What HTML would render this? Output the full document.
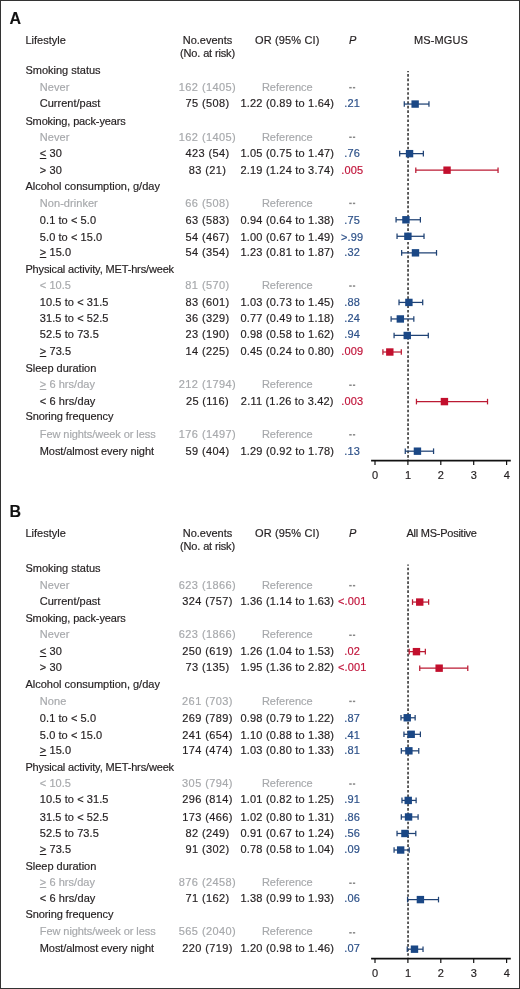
<!DOCTYPE html>
<html><head><meta charset="utf-8"><style>
html,body{margin:0;padding:0;background:#fff;}
body{width:520px;height:989px;position:relative;overflow:hidden;font-family:"Liberation Sans",sans-serif;}
.frame{position:absolute;left:0;top:0;width:520px;height:989px;box-sizing:border-box;border:1px solid #333;}
.t{position:absolute;font-size:11px;line-height:11px;white-space:pre;color:#231f20;-webkit-text-stroke:0.18px currentColor;}
.c{width:200px;text-align:center;}
.L{font-size:16px;line-height:16px;font-weight:bold;color:#111;-webkit-text-stroke:0.1px #111;}
.lbl{letter-spacing:0px;}
.num{letter-spacing:0.15px;}
.dash{letter-spacing:-0.5px;color:#444;}
svg{position:absolute;left:0;top:0;}
.txt{position:absolute;left:0;top:0;width:520px;height:989px;will-change:transform;}
u{text-decoration:underline;text-decoration-thickness:0.9px;text-underline-offset:1.2px;}
</style></head><body>
<div class="frame"></div>
<div class="txt">
<div class="t L" style="left:9.6px;top:10.96px">A</div>
<div class="t lbl" style="left:25.40px;top:35.09px;color:#231f20;">Lifestyle</div>
<div class="t c lbl" style="left:107.50px;top:35.09px;color:#231f20;">No.events</div>
<div class="t c lbl" style="left:107.50px;top:48.39px;color:#231f20;letter-spacing:-0.15px">(No. at risk)</div>
<div class="t c num" style="left:187.30px;top:35.09px;color:#231f20;">OR (95% CI)</div>
<div class="t c " style="left:252.75px;top:35.09px;color:#231f20;font-style:italic">P</div>
<div class="t c lbl" style="left:341.00px;top:35.09px;color:#231f20;letter-spacing:0.15px">MS-MGUS</div>
<div class="t lbl" style="left:25.40px;top:65.00px;color:#231f20;letter-spacing:0px">Smoking status</div>
<div class="t lbl" style="left:39.80px;top:82.00px;color:#a7a9ac;letter-spacing:0.05px">Never</div>
<div class="t c num" style="left:107.50px;top:82.00px;color:#a7a9ac;letter-spacing:0.42px">162 (1405)</div>
<div class="t c lbl" style="left:187.30px;top:82.00px;color:#a7a9ac;">Reference</div>
<div class="t lbl" style="left:39.80px;top:98.00px;color:#231f20;letter-spacing:0px">Current/past</div>
<div class="t c num" style="left:107.50px;top:98.00px;color:#231f20;letter-spacing:0.38px">75 (508)</div>
<div class="t c num" style="left:187.30px;top:98.00px;color:#231f20;letter-spacing:0.2px">1.22 (0.89 to 1.64)</div>
<div class="t c num" style="left:252.20px;top:98.00px;color:#2c5088;">.21</div>
<div class="t lbl" style="left:25.40px;top:116.00px;color:#231f20;letter-spacing:-0.13px">Smoking, pack-years</div>
<div class="t lbl" style="left:39.80px;top:132.00px;color:#a7a9ac;letter-spacing:0.05px">Never</div>
<div class="t c num" style="left:107.50px;top:132.00px;color:#a7a9ac;letter-spacing:0.42px">162 (1405)</div>
<div class="t c lbl" style="left:187.30px;top:132.00px;color:#a7a9ac;">Reference</div>
<div class="t lbl" style="left:39.80px;top:148.00px;color:#231f20;letter-spacing:0.08px"><u>&lt;</u> 30</div>
<div class="t c num" style="left:107.50px;top:148.00px;color:#231f20;letter-spacing:0.38px">423 (54)</div>
<div class="t c num" style="left:187.30px;top:148.00px;color:#231f20;letter-spacing:0.2px">1.05 (0.75 to 1.47)</div>
<div class="t c num" style="left:252.20px;top:148.00px;color:#2c5088;">.76</div>
<div class="t lbl" style="left:39.80px;top:165.00px;color:#231f20;letter-spacing:0.08px">&gt; 30</div>
<div class="t c num" style="left:107.50px;top:165.00px;color:#231f20;letter-spacing:0.38px">83 (21)</div>
<div class="t c num" style="left:187.30px;top:165.00px;color:#231f20;letter-spacing:0.2px">2.19 (1.24 to 3.74)</div>
<div class="t c num" style="left:252.20px;top:165.00px;color:#c0143a;">.005</div>
<div class="t lbl" style="left:25.40px;top:181.00px;color:#231f20;letter-spacing:0px">Alcohol consumption, g/day</div>
<div class="t lbl" style="left:39.80px;top:198.00px;color:#a7a9ac;letter-spacing:0.05px">Non-drinker</div>
<div class="t c num" style="left:107.50px;top:198.00px;color:#a7a9ac;letter-spacing:0.42px">66 (508)</div>
<div class="t c lbl" style="left:187.30px;top:198.00px;color:#a7a9ac;">Reference</div>
<div class="t lbl" style="left:39.80px;top:215.00px;color:#231f20;letter-spacing:0.08px">0.1 to &lt; 5.0</div>
<div class="t c num" style="left:107.50px;top:215.00px;color:#231f20;letter-spacing:0.38px">63 (583)</div>
<div class="t c num" style="left:187.30px;top:215.00px;color:#231f20;letter-spacing:0.2px">0.94 (0.64 to 1.38)</div>
<div class="t c num" style="left:252.20px;top:215.00px;color:#2c5088;">.75</div>
<div class="t lbl" style="left:39.80px;top:232.00px;color:#231f20;letter-spacing:0.08px">5.0 to &lt; 15.0</div>
<div class="t c num" style="left:107.50px;top:232.00px;color:#231f20;letter-spacing:0.38px">54 (467)</div>
<div class="t c num" style="left:187.30px;top:232.00px;color:#231f20;letter-spacing:0.2px">1.00 (0.67 to 1.49)</div>
<div class="t c num" style="left:252.20px;top:232.00px;color:#2c5088;">&gt;.99</div>
<div class="t lbl" style="left:39.80px;top:247.00px;color:#231f20;letter-spacing:0.08px"><u>&gt;</u> 15.0</div>
<div class="t c num" style="left:107.50px;top:247.00px;color:#231f20;letter-spacing:0.38px">54 (354)</div>
<div class="t c num" style="left:187.30px;top:247.00px;color:#231f20;letter-spacing:0.2px">1.23 (0.81 to 1.87)</div>
<div class="t c num" style="left:252.20px;top:247.00px;color:#2c5088;">.32</div>
<div class="t lbl" style="left:25.40px;top:264.00px;color:#231f20;letter-spacing:-0.15px">Physical activity, MET-hrs/week</div>
<div class="t lbl" style="left:39.80px;top:280.00px;color:#a7a9ac;letter-spacing:0.05px">&lt; 10.5</div>
<div class="t c num" style="left:107.50px;top:280.00px;color:#a7a9ac;letter-spacing:0.42px">81 (570)</div>
<div class="t c lbl" style="left:187.30px;top:280.00px;color:#a7a9ac;">Reference</div>
<div class="t lbl" style="left:39.80px;top:297.00px;color:#231f20;letter-spacing:0.08px">10.5 to &lt; 31.5</div>
<div class="t c num" style="left:107.50px;top:297.00px;color:#231f20;letter-spacing:0.38px">83 (601)</div>
<div class="t c num" style="left:187.30px;top:297.00px;color:#231f20;letter-spacing:0.2px">1.03 (0.73 to 1.45)</div>
<div class="t c num" style="left:252.20px;top:297.00px;color:#2c5088;">.88</div>
<div class="t lbl" style="left:39.80px;top:313.00px;color:#231f20;letter-spacing:0.08px">31.5 to &lt; 52.5</div>
<div class="t c num" style="left:107.50px;top:313.00px;color:#231f20;letter-spacing:0.38px">36 (329)</div>
<div class="t c num" style="left:187.30px;top:313.00px;color:#231f20;letter-spacing:0.2px">0.77 (0.49 to 1.18)</div>
<div class="t c num" style="left:252.20px;top:313.00px;color:#2c5088;">.24</div>
<div class="t lbl" style="left:39.80px;top:329.00px;color:#231f20;letter-spacing:0.08px">52.5 to 73.5</div>
<div class="t c num" style="left:107.50px;top:329.00px;color:#231f20;letter-spacing:0.38px">23 (190)</div>
<div class="t c num" style="left:187.30px;top:329.00px;color:#231f20;letter-spacing:0.2px">0.98 (0.58 to 1.62)</div>
<div class="t c num" style="left:252.20px;top:329.00px;color:#2c5088;">.94</div>
<div class="t lbl" style="left:39.80px;top:346.00px;color:#231f20;letter-spacing:0.08px"><u>&gt;</u> 73.5</div>
<div class="t c num" style="left:107.50px;top:346.00px;color:#231f20;letter-spacing:0.38px">14 (225)</div>
<div class="t c num" style="left:187.30px;top:346.00px;color:#231f20;letter-spacing:0.2px">0.45 (0.24 to 0.80)</div>
<div class="t c num" style="left:252.20px;top:346.00px;color:#c0143a;">.009</div>
<div class="t lbl" style="left:25.40px;top:363.00px;color:#231f20;letter-spacing:0px">Sleep duration</div>
<div class="t lbl" style="left:39.80px;top:379.00px;color:#a7a9ac;letter-spacing:0.05px"><u>&gt;</u> 6 hrs/day</div>
<div class="t c num" style="left:107.50px;top:379.00px;color:#a7a9ac;letter-spacing:0.42px">212 (1794)</div>
<div class="t c lbl" style="left:187.30px;top:379.00px;color:#a7a9ac;">Reference</div>
<div class="t lbl" style="left:39.80px;top:396.00px;color:#231f20;letter-spacing:0.08px">&lt; 6 hrs/day</div>
<div class="t c num" style="left:107.50px;top:396.00px;color:#231f20;letter-spacing:0.38px">25 (116)</div>
<div class="t c num" style="left:187.30px;top:396.00px;color:#231f20;letter-spacing:0.2px">2.11 (1.26 to 3.42)</div>
<div class="t c num" style="left:252.20px;top:396.00px;color:#c0143a;">.003</div>
<div class="t lbl" style="left:25.40px;top:411.00px;color:#231f20;letter-spacing:-0.07px">Snoring frequency</div>
<div class="t lbl" style="left:39.80px;top:429.00px;color:#a7a9ac;letter-spacing:-0.07px">Few nights/week or less</div>
<div class="t c num" style="left:107.50px;top:429.00px;color:#a7a9ac;letter-spacing:0.42px">176 (1497)</div>
<div class="t c lbl" style="left:187.30px;top:429.00px;color:#a7a9ac;">Reference</div>
<div class="t lbl" style="left:39.80px;top:446.00px;color:#231f20;letter-spacing:-0.09px">Most/almost every night</div>
<div class="t c num" style="left:107.50px;top:446.00px;color:#231f20;letter-spacing:0.38px">59 (404)</div>
<div class="t c num" style="left:187.30px;top:446.00px;color:#231f20;letter-spacing:0.2px">1.29 (0.92 to 1.78)</div>
<div class="t c num" style="left:252.20px;top:446.00px;color:#2c5088;">.13</div>
<div class="t c num" style="left:275.20px;top:470.19px;color:#231f20;">0</div>
<div class="t c num" style="left:308.10px;top:470.19px;color:#231f20;">1</div>
<div class="t c num" style="left:341.00px;top:470.19px;color:#231f20;">2</div>
<div class="t c num" style="left:373.90px;top:470.19px;color:#231f20;">3</div>
<div class="t c num" style="left:406.80px;top:470.19px;color:#231f20;">4</div>
<div class="t L" style="left:9.6px;top:503.76px">B</div>
<div class="t lbl" style="left:25.40px;top:527.89px;color:#231f20;">Lifestyle</div>
<div class="t c lbl" style="left:107.50px;top:527.89px;color:#231f20;">No.events</div>
<div class="t c lbl" style="left:107.50px;top:541.19px;color:#231f20;letter-spacing:-0.15px">(No. at risk)</div>
<div class="t c num" style="left:187.30px;top:527.89px;color:#231f20;">OR (95% CI)</div>
<div class="t c " style="left:252.75px;top:527.89px;color:#231f20;font-style:italic">P</div>
<div class="t c lbl" style="left:341.60px;top:527.89px;color:#231f20;letter-spacing:-0.25px">All MS-Positive</div>
<div class="t lbl" style="left:25.40px;top:563.00px;color:#231f20;letter-spacing:0px">Smoking status</div>
<div class="t lbl" style="left:39.80px;top:580.00px;color:#a7a9ac;letter-spacing:0.05px">Never</div>
<div class="t c num" style="left:107.50px;top:580.00px;color:#a7a9ac;letter-spacing:0.42px">623 (1866)</div>
<div class="t c lbl" style="left:187.30px;top:580.00px;color:#a7a9ac;">Reference</div>
<div class="t lbl" style="left:39.80px;top:596.00px;color:#231f20;letter-spacing:0px">Current/past</div>
<div class="t c num" style="left:107.50px;top:596.00px;color:#231f20;letter-spacing:0.38px">324 (757)</div>
<div class="t c num" style="left:187.30px;top:596.00px;color:#231f20;letter-spacing:0.2px">1.36 (1.14 to 1.63)</div>
<div class="t c num" style="left:252.20px;top:596.00px;color:#c0143a;">&lt;.001</div>
<div class="t lbl" style="left:25.40px;top:613.00px;color:#231f20;letter-spacing:-0.13px">Smoking, pack-years</div>
<div class="t lbl" style="left:39.80px;top:629.00px;color:#a7a9ac;letter-spacing:0.05px">Never</div>
<div class="t c num" style="left:107.50px;top:629.00px;color:#a7a9ac;letter-spacing:0.42px">623 (1866)</div>
<div class="t c lbl" style="left:187.30px;top:629.00px;color:#a7a9ac;">Reference</div>
<div class="t lbl" style="left:39.80px;top:646.00px;color:#231f20;letter-spacing:0.08px"><u>&lt;</u> 30</div>
<div class="t c num" style="left:107.50px;top:646.00px;color:#231f20;letter-spacing:0.38px">250 (619)</div>
<div class="t c num" style="left:187.30px;top:646.00px;color:#231f20;letter-spacing:0.2px">1.26 (1.04 to 1.53)</div>
<div class="t c num" style="left:252.20px;top:646.00px;color:#c0143a;">.02</div>
<div class="t lbl" style="left:39.80px;top:662.00px;color:#231f20;letter-spacing:0.08px">&gt; 30</div>
<div class="t c num" style="left:107.50px;top:662.00px;color:#231f20;letter-spacing:0.38px">73 (135)</div>
<div class="t c num" style="left:187.30px;top:662.00px;color:#231f20;letter-spacing:0.2px">1.95 (1.36 to 2.82)</div>
<div class="t c num" style="left:252.20px;top:662.00px;color:#c0143a;">&lt;.001</div>
<div class="t lbl" style="left:25.40px;top:679.00px;color:#231f20;letter-spacing:0px">Alcohol consumption, g/day</div>
<div class="t lbl" style="left:39.80px;top:696.00px;color:#a7a9ac;letter-spacing:0.05px">None</div>
<div class="t c num" style="left:107.50px;top:696.00px;color:#a7a9ac;letter-spacing:0.42px">261 (703)</div>
<div class="t c lbl" style="left:187.30px;top:696.00px;color:#a7a9ac;">Reference</div>
<div class="t lbl" style="left:39.80px;top:713.00px;color:#231f20;letter-spacing:0.08px">0.1 to &lt; 5.0</div>
<div class="t c num" style="left:107.50px;top:713.00px;color:#231f20;letter-spacing:0.38px">269 (789)</div>
<div class="t c num" style="left:187.30px;top:713.00px;color:#231f20;letter-spacing:0.2px">0.98 (0.79 to 1.22)</div>
<div class="t c num" style="left:252.20px;top:713.00px;color:#2c5088;">.87</div>
<div class="t lbl" style="left:39.80px;top:730.00px;color:#231f20;letter-spacing:0.08px">5.0 to &lt; 15.0</div>
<div class="t c num" style="left:107.50px;top:730.00px;color:#231f20;letter-spacing:0.38px">241 (654)</div>
<div class="t c num" style="left:187.30px;top:730.00px;color:#231f20;letter-spacing:0.2px">1.10 (0.88 to 1.38)</div>
<div class="t c num" style="left:252.20px;top:730.00px;color:#2c5088;">.41</div>
<div class="t lbl" style="left:39.80px;top:745.00px;color:#231f20;letter-spacing:0.08px"><u>&gt;</u> 15.0</div>
<div class="t c num" style="left:107.50px;top:745.00px;color:#231f20;letter-spacing:0.38px">174 (474)</div>
<div class="t c num" style="left:187.30px;top:745.00px;color:#231f20;letter-spacing:0.2px">1.03 (0.80 to 1.33)</div>
<div class="t c num" style="left:252.20px;top:745.00px;color:#2c5088;">.81</div>
<div class="t lbl" style="left:25.40px;top:762.00px;color:#231f20;letter-spacing:-0.15px">Physical activity, MET-hrs/week</div>
<div class="t lbl" style="left:39.80px;top:778.00px;color:#a7a9ac;letter-spacing:0.05px">&lt; 10.5</div>
<div class="t c num" style="left:107.50px;top:778.00px;color:#a7a9ac;letter-spacing:0.42px">305 (794)</div>
<div class="t c lbl" style="left:187.30px;top:778.00px;color:#a7a9ac;">Reference</div>
<div class="t lbl" style="left:39.80px;top:794.00px;color:#231f20;letter-spacing:0.08px">10.5 to &lt; 31.5</div>
<div class="t c num" style="left:107.50px;top:794.00px;color:#231f20;letter-spacing:0.38px">296 (814)</div>
<div class="t c num" style="left:187.30px;top:794.00px;color:#231f20;letter-spacing:0.2px">1.01 (0.82 to 1.25)</div>
<div class="t c num" style="left:252.20px;top:794.00px;color:#2c5088;">.91</div>
<div class="t lbl" style="left:39.80px;top:812.00px;color:#231f20;letter-spacing:0.08px">31.5 to &lt; 52.5</div>
<div class="t c num" style="left:107.50px;top:812.00px;color:#231f20;letter-spacing:0.38px">173 (466)</div>
<div class="t c num" style="left:187.30px;top:812.00px;color:#231f20;letter-spacing:0.2px">1.02 (0.80 to 1.31)</div>
<div class="t c num" style="left:252.20px;top:812.00px;color:#2c5088;">.86</div>
<div class="t lbl" style="left:39.80px;top:828.00px;color:#231f20;letter-spacing:0.08px">52.5 to 73.5</div>
<div class="t c num" style="left:107.50px;top:828.00px;color:#231f20;letter-spacing:0.38px">82 (249)</div>
<div class="t c num" style="left:187.30px;top:828.00px;color:#231f20;letter-spacing:0.2px">0.91 (0.67 to 1.24)</div>
<div class="t c num" style="left:252.20px;top:828.00px;color:#2c5088;">.56</div>
<div class="t lbl" style="left:39.80px;top:844.00px;color:#231f20;letter-spacing:0.08px"><u>&gt;</u> 73.5</div>
<div class="t c num" style="left:107.50px;top:844.00px;color:#231f20;letter-spacing:0.38px">91 (302)</div>
<div class="t c num" style="left:187.30px;top:844.00px;color:#231f20;letter-spacing:0.2px">0.78 (0.58 to 1.04)</div>
<div class="t c num" style="left:252.20px;top:844.00px;color:#2c5088;">.09</div>
<div class="t lbl" style="left:25.40px;top:861.00px;color:#231f20;letter-spacing:0px">Sleep duration</div>
<div class="t lbl" style="left:39.80px;top:877.00px;color:#a7a9ac;letter-spacing:0.05px"><u>&gt;</u> 6 hrs/day</div>
<div class="t c num" style="left:107.50px;top:877.00px;color:#a7a9ac;letter-spacing:0.42px">876 (2458)</div>
<div class="t c lbl" style="left:187.30px;top:877.00px;color:#a7a9ac;">Reference</div>
<div class="t lbl" style="left:39.80px;top:893.00px;color:#231f20;letter-spacing:0.08px">&lt; 6 hrs/day</div>
<div class="t c num" style="left:107.50px;top:893.00px;color:#231f20;letter-spacing:0.38px">71 (162)</div>
<div class="t c num" style="left:187.30px;top:893.00px;color:#231f20;letter-spacing:0.2px">1.38 (0.99 to 1.93)</div>
<div class="t c num" style="left:252.20px;top:893.00px;color:#2c5088;">.06</div>
<div class="t lbl" style="left:25.40px;top:909.00px;color:#231f20;letter-spacing:-0.07px">Snoring frequency</div>
<div class="t lbl" style="left:39.80px;top:926.00px;color:#a7a9ac;letter-spacing:-0.07px">Few nights/week or less</div>
<div class="t c num" style="left:107.50px;top:926.00px;color:#a7a9ac;letter-spacing:0.42px">565 (2040)</div>
<div class="t c lbl" style="left:187.30px;top:926.00px;color:#a7a9ac;">Reference</div>
<div class="t lbl" style="left:39.80px;top:943.00px;color:#231f20;letter-spacing:-0.09px">Most/almost every night</div>
<div class="t c num" style="left:107.50px;top:943.00px;color:#231f20;letter-spacing:0.38px">220 (719)</div>
<div class="t c num" style="left:187.30px;top:943.00px;color:#231f20;letter-spacing:0.2px">1.20 (0.98 to 1.46)</div>
<div class="t c num" style="left:252.20px;top:943.00px;color:#2c5088;">.07</div>
<div class="t c num" style="left:275.20px;top:968.19px;color:#231f20;">0</div>
<div class="t c num" style="left:308.10px;top:968.19px;color:#231f20;">1</div>
<div class="t c num" style="left:341.00px;top:968.19px;color:#231f20;">2</div>
<div class="t c num" style="left:373.90px;top:968.19px;color:#231f20;">3</div>
<div class="t c num" style="left:406.80px;top:968.19px;color:#231f20;">4</div>
</div>
<svg width="520" height="989" viewBox="0 0 520 989">
<line x1="408.05" y1="71.00" x2="408.05" y2="460.60" stroke="#2a2a2a" stroke-width="1.5" stroke-dasharray="2.65 1.885" stroke-dashoffset="1.455"/>
<line x1="408.05" y1="564.60" x2="408.05" y2="958.60" stroke="#2a2a2a" stroke-width="1.5" stroke-dasharray="2.65 1.885" stroke-dashoffset="1.455"/>
<line x1="404.28" y1="104.06" x2="428.96" y2="104.06" stroke="#1f4274" stroke-width="1.25"/>
<line x1="404.28" y1="101.26" x2="404.28" y2="106.86" stroke="#1f4274" stroke-width="1.25"/>
<line x1="428.96" y1="101.26" x2="428.96" y2="106.86" stroke="#1f4274" stroke-width="1.25"/>
<line x1="399.68" y1="153.65" x2="423.36" y2="153.65" stroke="#1f4274" stroke-width="1.25"/>
<line x1="399.68" y1="150.85" x2="399.68" y2="156.45" stroke="#1f4274" stroke-width="1.25"/>
<line x1="423.36" y1="150.85" x2="423.36" y2="156.45" stroke="#1f4274" stroke-width="1.25"/>
<line x1="415.80" y1="170.18" x2="498.05" y2="170.18" stroke="#bb1a33" stroke-width="1.25"/>
<line x1="415.80" y1="167.38" x2="415.80" y2="172.98" stroke="#bb1a33" stroke-width="1.25"/>
<line x1="498.05" y1="167.38" x2="498.05" y2="172.98" stroke="#bb1a33" stroke-width="1.25"/>
<line x1="396.06" y1="219.77" x2="420.40" y2="219.77" stroke="#1f4274" stroke-width="1.25"/>
<line x1="396.06" y1="216.97" x2="396.06" y2="222.57" stroke="#1f4274" stroke-width="1.25"/>
<line x1="420.40" y1="216.97" x2="420.40" y2="222.57" stroke="#1f4274" stroke-width="1.25"/>
<line x1="397.04" y1="236.30" x2="424.02" y2="236.30" stroke="#1f4274" stroke-width="1.25"/>
<line x1="397.04" y1="233.50" x2="397.04" y2="239.10" stroke="#1f4274" stroke-width="1.25"/>
<line x1="424.02" y1="233.50" x2="424.02" y2="239.10" stroke="#1f4274" stroke-width="1.25"/>
<line x1="401.65" y1="252.83" x2="436.52" y2="252.83" stroke="#1f4274" stroke-width="1.25"/>
<line x1="401.65" y1="250.03" x2="401.65" y2="255.63" stroke="#1f4274" stroke-width="1.25"/>
<line x1="436.52" y1="250.03" x2="436.52" y2="255.63" stroke="#1f4274" stroke-width="1.25"/>
<line x1="399.02" y1="302.42" x2="422.70" y2="302.42" stroke="#1f4274" stroke-width="1.25"/>
<line x1="399.02" y1="299.62" x2="399.02" y2="305.22" stroke="#1f4274" stroke-width="1.25"/>
<line x1="422.70" y1="299.62" x2="422.70" y2="305.22" stroke="#1f4274" stroke-width="1.25"/>
<line x1="391.12" y1="318.95" x2="413.82" y2="318.95" stroke="#1f4274" stroke-width="1.25"/>
<line x1="391.12" y1="316.15" x2="391.12" y2="321.75" stroke="#1f4274" stroke-width="1.25"/>
<line x1="413.82" y1="316.15" x2="413.82" y2="321.75" stroke="#1f4274" stroke-width="1.25"/>
<line x1="394.08" y1="335.48" x2="428.30" y2="335.48" stroke="#1f4274" stroke-width="1.25"/>
<line x1="394.08" y1="332.68" x2="394.08" y2="338.28" stroke="#1f4274" stroke-width="1.25"/>
<line x1="428.30" y1="332.68" x2="428.30" y2="338.28" stroke="#1f4274" stroke-width="1.25"/>
<line x1="382.90" y1="352.01" x2="401.32" y2="352.01" stroke="#bb1a33" stroke-width="1.25"/>
<line x1="382.90" y1="349.21" x2="382.90" y2="354.81" stroke="#bb1a33" stroke-width="1.25"/>
<line x1="401.32" y1="349.21" x2="401.32" y2="354.81" stroke="#bb1a33" stroke-width="1.25"/>
<line x1="416.45" y1="401.60" x2="487.52" y2="401.60" stroke="#bb1a33" stroke-width="1.25"/>
<line x1="416.45" y1="398.80" x2="416.45" y2="404.40" stroke="#bb1a33" stroke-width="1.25"/>
<line x1="487.52" y1="398.80" x2="487.52" y2="404.40" stroke="#bb1a33" stroke-width="1.25"/>
<line x1="405.27" y1="451.19" x2="433.56" y2="451.19" stroke="#1f4274" stroke-width="1.25"/>
<line x1="405.27" y1="448.39" x2="405.27" y2="453.99" stroke="#1f4274" stroke-width="1.25"/>
<line x1="433.56" y1="448.39" x2="433.56" y2="453.99" stroke="#1f4274" stroke-width="1.25"/>
<line x1="412.51" y1="602.06" x2="428.63" y2="602.06" stroke="#bb1a33" stroke-width="1.25"/>
<line x1="412.51" y1="599.26" x2="412.51" y2="604.86" stroke="#bb1a33" stroke-width="1.25"/>
<line x1="428.63" y1="599.26" x2="428.63" y2="604.86" stroke="#bb1a33" stroke-width="1.25"/>
<line x1="409.22" y1="651.65" x2="425.34" y2="651.65" stroke="#bb1a33" stroke-width="1.25"/>
<line x1="409.22" y1="648.85" x2="409.22" y2="654.45" stroke="#bb1a33" stroke-width="1.25"/>
<line x1="425.34" y1="648.85" x2="425.34" y2="654.45" stroke="#bb1a33" stroke-width="1.25"/>
<line x1="419.74" y1="668.18" x2="467.78" y2="668.18" stroke="#bb1a33" stroke-width="1.25"/>
<line x1="419.74" y1="665.38" x2="419.74" y2="670.98" stroke="#bb1a33" stroke-width="1.25"/>
<line x1="467.78" y1="665.38" x2="467.78" y2="670.98" stroke="#bb1a33" stroke-width="1.25"/>
<line x1="400.99" y1="717.77" x2="415.14" y2="717.77" stroke="#1f4274" stroke-width="1.25"/>
<line x1="400.99" y1="714.97" x2="400.99" y2="720.57" stroke="#1f4274" stroke-width="1.25"/>
<line x1="415.14" y1="714.97" x2="415.14" y2="720.57" stroke="#1f4274" stroke-width="1.25"/>
<line x1="403.95" y1="734.30" x2="420.40" y2="734.30" stroke="#1f4274" stroke-width="1.25"/>
<line x1="403.95" y1="731.50" x2="403.95" y2="737.10" stroke="#1f4274" stroke-width="1.25"/>
<line x1="420.40" y1="731.50" x2="420.40" y2="737.10" stroke="#1f4274" stroke-width="1.25"/>
<line x1="401.32" y1="750.83" x2="418.76" y2="750.83" stroke="#1f4274" stroke-width="1.25"/>
<line x1="401.32" y1="748.03" x2="401.32" y2="753.63" stroke="#1f4274" stroke-width="1.25"/>
<line x1="418.76" y1="748.03" x2="418.76" y2="753.63" stroke="#1f4274" stroke-width="1.25"/>
<line x1="401.98" y1="800.42" x2="416.12" y2="800.42" stroke="#1f4274" stroke-width="1.25"/>
<line x1="401.98" y1="797.62" x2="401.98" y2="803.22" stroke="#1f4274" stroke-width="1.25"/>
<line x1="416.12" y1="797.62" x2="416.12" y2="803.22" stroke="#1f4274" stroke-width="1.25"/>
<line x1="401.32" y1="816.95" x2="418.10" y2="816.95" stroke="#1f4274" stroke-width="1.25"/>
<line x1="401.32" y1="814.15" x2="401.32" y2="819.75" stroke="#1f4274" stroke-width="1.25"/>
<line x1="418.10" y1="814.15" x2="418.10" y2="819.75" stroke="#1f4274" stroke-width="1.25"/>
<line x1="397.04" y1="833.48" x2="415.80" y2="833.48" stroke="#1f4274" stroke-width="1.25"/>
<line x1="397.04" y1="830.68" x2="397.04" y2="836.28" stroke="#1f4274" stroke-width="1.25"/>
<line x1="415.80" y1="830.68" x2="415.80" y2="836.28" stroke="#1f4274" stroke-width="1.25"/>
<line x1="394.08" y1="850.01" x2="409.22" y2="850.01" stroke="#1f4274" stroke-width="1.25"/>
<line x1="394.08" y1="847.21" x2="394.08" y2="852.81" stroke="#1f4274" stroke-width="1.25"/>
<line x1="409.22" y1="847.21" x2="409.22" y2="852.81" stroke="#1f4274" stroke-width="1.25"/>
<line x1="407.57" y1="899.60" x2="438.50" y2="899.60" stroke="#1f4274" stroke-width="1.25"/>
<line x1="407.57" y1="896.80" x2="407.57" y2="902.40" stroke="#1f4274" stroke-width="1.25"/>
<line x1="438.50" y1="896.80" x2="438.50" y2="902.40" stroke="#1f4274" stroke-width="1.25"/>
<line x1="407.24" y1="949.19" x2="423.03" y2="949.19" stroke="#1f4274" stroke-width="1.25"/>
<line x1="407.24" y1="946.39" x2="407.24" y2="951.99" stroke="#1f4274" stroke-width="1.25"/>
<line x1="423.03" y1="946.39" x2="423.03" y2="951.99" stroke="#1f4274" stroke-width="1.25"/>
<rect x="349.2" y="86.93" width="2.5" height="1.5" fill="#888888"/>
<rect x="352.9" y="86.93" width="2.3" height="1.5" fill="#888888"/>
<rect x="411.44" y="100.36" width="7.4" height="7.4" fill="#1a4785"/>
<rect x="349.2" y="136.52" width="2.5" height="1.5" fill="#888888"/>
<rect x="352.9" y="136.52" width="2.3" height="1.5" fill="#888888"/>
<rect x="405.85" y="149.95" width="7.4" height="7.4" fill="#1a4785"/>
<rect x="443.35" y="166.48" width="7.4" height="7.4" fill="#c20f2d"/>
<rect x="349.2" y="202.64" width="2.5" height="1.5" fill="#888888"/>
<rect x="352.9" y="202.64" width="2.3" height="1.5" fill="#888888"/>
<rect x="402.23" y="216.07" width="7.4" height="7.4" fill="#1a4785"/>
<rect x="404.20" y="232.60" width="7.4" height="7.4" fill="#1a4785"/>
<rect x="411.77" y="249.13" width="7.4" height="7.4" fill="#1a4785"/>
<rect x="349.2" y="285.29" width="2.5" height="1.5" fill="#888888"/>
<rect x="352.9" y="285.29" width="2.3" height="1.5" fill="#888888"/>
<rect x="405.19" y="298.72" width="7.4" height="7.4" fill="#1a4785"/>
<rect x="396.63" y="315.25" width="7.4" height="7.4" fill="#1a4785"/>
<rect x="403.54" y="331.78" width="7.4" height="7.4" fill="#1a4785"/>
<rect x="386.11" y="348.31" width="7.4" height="7.4" fill="#c20f2d"/>
<rect x="349.2" y="384.47" width="2.5" height="1.5" fill="#888888"/>
<rect x="352.9" y="384.47" width="2.3" height="1.5" fill="#888888"/>
<rect x="440.72" y="397.90" width="7.4" height="7.4" fill="#c20f2d"/>
<rect x="349.2" y="434.06" width="2.5" height="1.5" fill="#888888"/>
<rect x="352.9" y="434.06" width="2.3" height="1.5" fill="#888888"/>
<rect x="413.74" y="447.49" width="7.4" height="7.4" fill="#1a4785"/>
<rect x="349.2" y="584.93" width="2.5" height="1.5" fill="#888888"/>
<rect x="352.9" y="584.93" width="2.3" height="1.5" fill="#888888"/>
<rect x="416.04" y="598.36" width="7.4" height="7.4" fill="#c20f2d"/>
<rect x="349.2" y="634.52" width="2.5" height="1.5" fill="#888888"/>
<rect x="352.9" y="634.52" width="2.3" height="1.5" fill="#888888"/>
<rect x="412.75" y="647.95" width="7.4" height="7.4" fill="#c20f2d"/>
<rect x="435.45" y="664.48" width="7.4" height="7.4" fill="#c20f2d"/>
<rect x="349.2" y="700.64" width="2.5" height="1.5" fill="#888888"/>
<rect x="352.9" y="700.64" width="2.3" height="1.5" fill="#888888"/>
<rect x="403.54" y="714.07" width="7.4" height="7.4" fill="#1a4785"/>
<rect x="407.49" y="730.60" width="7.4" height="7.4" fill="#1a4785"/>
<rect x="405.19" y="747.13" width="7.4" height="7.4" fill="#1a4785"/>
<rect x="349.2" y="783.29" width="2.5" height="1.5" fill="#888888"/>
<rect x="352.9" y="783.29" width="2.3" height="1.5" fill="#888888"/>
<rect x="404.53" y="796.72" width="7.4" height="7.4" fill="#1a4785"/>
<rect x="404.86" y="813.25" width="7.4" height="7.4" fill="#1a4785"/>
<rect x="401.24" y="829.78" width="7.4" height="7.4" fill="#1a4785"/>
<rect x="396.96" y="846.31" width="7.4" height="7.4" fill="#1a4785"/>
<rect x="349.2" y="882.47" width="2.5" height="1.5" fill="#888888"/>
<rect x="352.9" y="882.47" width="2.3" height="1.5" fill="#888888"/>
<rect x="416.70" y="895.90" width="7.4" height="7.4" fill="#1a4785"/>
<rect x="349.2" y="932.06" width="2.5" height="1.5" fill="#888888"/>
<rect x="352.9" y="932.06" width="2.3" height="1.5" fill="#888888"/>
<rect x="410.78" y="945.49" width="7.4" height="7.4" fill="#1a4785"/>
<line x1="371.1" y1="460.60" x2="510.8" y2="460.60" stroke="#111" stroke-width="1.6"/>
<line x1="375.00" y1="460.60" x2="375.00" y2="464.90" stroke="#111" stroke-width="1.2"/>
<line x1="407.90" y1="460.60" x2="407.90" y2="464.90" stroke="#111" stroke-width="1.2"/>
<line x1="440.80" y1="460.60" x2="440.80" y2="464.90" stroke="#111" stroke-width="1.2"/>
<line x1="473.70" y1="460.60" x2="473.70" y2="464.90" stroke="#111" stroke-width="1.2"/>
<line x1="506.60" y1="460.60" x2="506.60" y2="464.90" stroke="#111" stroke-width="1.2"/>
<line x1="371.1" y1="958.60" x2="510.8" y2="958.60" stroke="#111" stroke-width="1.6"/>
<line x1="375.00" y1="958.60" x2="375.00" y2="962.90" stroke="#111" stroke-width="1.2"/>
<line x1="407.90" y1="958.60" x2="407.90" y2="962.90" stroke="#111" stroke-width="1.2"/>
<line x1="440.80" y1="958.60" x2="440.80" y2="962.90" stroke="#111" stroke-width="1.2"/>
<line x1="473.70" y1="958.60" x2="473.70" y2="962.90" stroke="#111" stroke-width="1.2"/>
<line x1="506.60" y1="958.60" x2="506.60" y2="962.90" stroke="#111" stroke-width="1.2"/>
</svg>
</body></html>
